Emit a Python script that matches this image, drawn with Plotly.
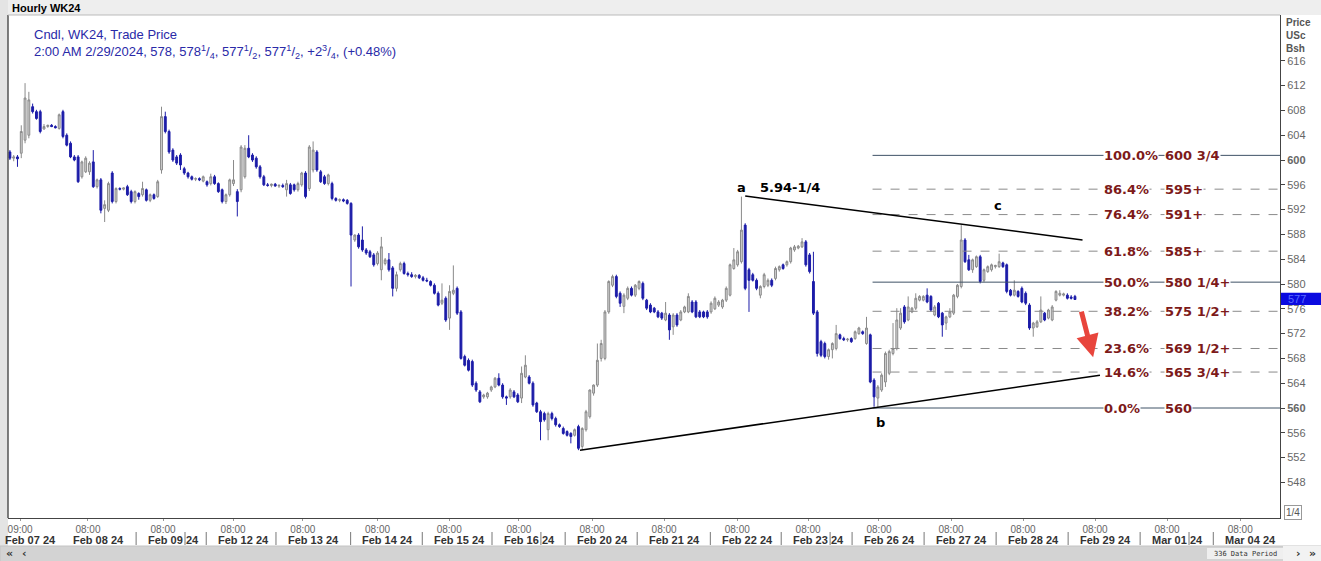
import plotly.graph_objects as go

# ---------------- data (hourly OHLC) ----------------
open_ = [601.3, 600.3, 600.5, 601.1, 603.2, 604.0, 608.6, 607.8, 607.8, 605.0,
         605.4, 605.6, 605.4, 605.1, 607.8, 604.0, 602.7, 600.5, 600.5, 597.3,
         598.1, 598.1, 599.7, 595.7, 596.8, 592.2, 591.9, 597.9, 593.3, 595.4,
         595.3, 595.7, 594.9, 593.3, 594.6, 594.4, 595.2, 593.5, 594.4, 594.1,
         598.4, 607.0, 604.6, 601.6, 600.5, 600.8, 598.6, 597.9, 597.3, 596.9,
         597.0, 596.6, 596.5, 596.2, 597.3, 596.2, 595.2, 593.3, 594.4, 596.2,
         594.9, 595.2, 597.3, 601.9, 600.8, 600.3, 598.9, 597.3, 596.0, 595.9,
         596.1, 595.8, 595.9, 595.2, 596.0, 596.0, 595.2, 596.0, 597.9, 595.4,
         598.4, 601.3, 598.1, 597.3, 596.2, 596.2, 593.8, 593.5, 593.6, 593.5,
         593.0, 587.1, 587.9, 587.1, 585.5, 585.2, 584.7, 583.3, 582.3, 583.3,
         583.9, 582.6, 579.3, 582.3, 583.3, 581.7, 581.5, 581.2, 581.4, 581.0,
         580.6, 580.4, 579.8, 578.5, 576.9, 577.7, 574.5, 578.5, 579.3, 575.5,
         568.3, 567.7, 567.5, 564.0, 562.6, 561.8, 561.8, 562.9, 563.4, 564.8,
         563.7, 561.8, 561.8, 562.6, 562.1, 561.6, 565.0, 565.0, 564.0, 560.8,
         559.4, 559.1, 556.5, 559.1, 558.3, 557.3, 556.7, 556.2, 555.9, 555.6,
         557.0, 553.8, 556.5, 558.6, 562.4, 563.7, 568.0, 568.0, 575.5, 579.8,
         581.2, 578.5, 576.4, 577.7, 579.3, 578.2, 579.3, 580.1, 577.4, 576.6,
         576.1, 575.5, 575.3, 574.2, 575.0, 573.1, 575.0, 574.2, 575.5, 575.5,
         577.1, 577.1, 575.5, 575.5, 575.5, 575.5, 576.0, 576.6, 576.3, 577.4,
         578.2, 582.5, 583.1, 583.6, 589.5, 582.3, 581.5, 580.6, 578.2, 579.6,
         579.8, 580.6, 580.9, 582.3, 583.1, 583.1, 583.6, 585.5, 585.8, 586.0,
         586.8, 584.7, 580.4, 575.5, 570.7, 570.4, 568.3, 569.4, 569.6, 571.8,
         571.2, 571.0, 571.2, 571.2, 572.0, 572.3, 570.4, 571.8, 564.5, 561.6,
         562.9, 564.2, 565.6, 568.8, 569.6, 572.9, 576.3, 574.2, 575.5, 576.1,
         577.4, 577.4, 578.2, 578.0, 575.0, 576.9, 575.3, 573.7, 574.7, 575.3,
         578.0, 579.6, 587.1, 583.9, 582.3, 582.8, 584.4, 580.6, 582.0, 582.3,
         582.8, 582.8, 583.4, 583.1, 579.0, 578.2, 578.8, 579.3, 578.5, 576.6,
         572.9, 573.1, 573.9, 575.3, 574.5, 574.2, 577.4, 578.2, 578.2, 578.2,
         577.9, 578.0]
high_ = [601.6, 600.8, 600.8, 605.6, 612.4, 611.0, 609.1, 608.1, 608.1, 605.8,
         605.7, 605.8, 605.6, 607.5, 608.1, 604.3, 603.0, 600.8, 600.8, 599.9,
         600.6, 599.8, 601.6, 597.0, 597.1, 593.5, 596.5, 598.2, 595.6, 595.6,
         595.6, 596.0, 595.2, 595.1, 594.8, 596.5, 595.4, 594.6, 594.6, 596.8,
         608.6, 607.8, 604.9, 601.9, 600.8, 601.1, 598.9, 598.1, 597.5, 597.2,
         597.2, 597.5, 596.7, 597.8, 597.6, 596.4, 595.4, 594.6, 597.0, 600.0,
         595.3, 602.4, 602.4, 604.0, 601.1, 600.6, 599.2, 597.6, 596.3, 596.2,
         596.3, 596.1, 596.2, 596.8, 596.3, 596.2, 596.5, 598.1, 598.2, 602.4,
         603.0, 601.6, 598.4, 597.6, 597.8, 596.5, 594.0, 593.8, 593.8, 593.7,
         593.2, 588.0, 588.2, 589.3, 585.8, 585.5, 585.0, 585.3, 587.6, 584.2,
         585.0, 582.9, 582.0, 583.6, 583.6, 582.0, 581.9, 581.6, 581.6, 581.3,
         581.0, 580.6, 580.1, 578.8, 580.1, 578.0, 579.8, 583.0, 579.6, 575.8,
         568.6, 568.0, 567.8, 564.3, 562.9, 562.3, 562.6, 563.6, 565.0, 565.6,
         564.0, 562.0, 563.2, 562.9, 562.4, 566.7, 568.5, 565.3, 564.3, 561.0,
         559.7, 559.4, 559.4, 559.4, 558.6, 557.5, 557.0, 556.4, 556.1, 556.7,
         557.3, 556.9, 559.7, 563.0, 563.8, 570.4, 571.0, 575.8, 580.6, 581.5,
         581.5, 578.8, 578.5, 579.6, 579.6, 580.0, 580.6, 580.4, 577.6, 576.9,
         576.3, 575.8, 575.5, 577.1, 575.3, 575.3, 575.3, 575.8, 576.5, 578.5,
         577.4, 577.4, 575.8, 575.7, 575.8, 577.2, 578.0, 577.4, 577.6, 579.6,
         583.3, 585.8, 585.5, 594.1, 589.8, 582.6, 581.8, 580.9, 579.8, 581.8,
         580.9, 580.9, 582.8, 583.0, 583.3, 583.8, 586.0, 586.3, 586.3, 587.4,
         587.1, 585.0, 585.2, 575.8, 571.0, 570.7, 569.6, 570.6, 573.4, 572.0,
         571.5, 571.3, 571.4, 572.5, 573.1, 572.5, 574.7, 572.0, 564.8, 563.7,
         565.6, 569.1, 569.4, 573.7, 576.1, 576.1, 576.6, 578.0, 576.3, 578.5,
         578.2, 578.2, 579.3, 578.2, 576.6, 577.1, 575.5, 574.9, 576.1, 578.4,
         580.0, 589.5, 587.4, 584.7, 584.1, 584.6, 584.7, 582.5, 583.0, 583.3,
         583.1, 584.9, 583.6, 583.3, 579.2, 580.6, 579.0, 579.6, 578.8, 576.9,
         573.9, 574.2, 578.0, 575.5, 576.0, 576.6, 579.0, 579.0, 578.6, 578.5,
         578.2, 578.25]
low_ = [600.0, 599.8, 598.9, 600.3, 602.7, 603.5, 607.5, 606.5, 604.3, 604.9,
        605.2, 605.3, 605.1, 604.9, 603.5, 602.2, 600.3, 599.8, 596.3, 597.0,
        597.9, 597.6, 595.5, 595.4, 591.4, 590.0, 591.6, 593.0, 593.0, 595.1,
        595.1, 594.2, 593.0, 593.0, 593.6, 594.1, 593.3, 593.2, 593.6, 593.9,
        597.8, 604.3, 601.0, 599.7, 599.2, 598.4, 597.6, 597.0, 596.7, 596.6,
        596.6, 596.4, 595.7, 595.9, 596.0, 594.7, 593.0, 592.9, 594.1, 595.8,
        590.9, 594.8, 597.0, 600.3, 599.7, 598.6, 597.0, 595.8, 595.7, 595.6,
        595.7, 595.5, 595.5, 594.1, 594.4, 594.9, 594.9, 595.7, 593.8, 595.0,
        598.0, 598.1, 596.3, 596.0, 595.9, 593.5, 593.3, 593.2, 593.2, 592.8,
        579.6, 586.8, 585.7, 585.2, 584.7, 584.2, 582.8, 583.0, 580.6, 583.0,
        582.0, 578.0, 578.8, 582.0, 581.5, 581.2, 581.0, 580.9, 580.8, 580.4,
        580.3, 579.6, 578.3, 576.4, 576.6, 573.9, 572.6, 578.2, 575.0, 567.8,
        566.7, 565.9, 563.4, 562.6, 560.8, 561.5, 561.5, 562.6, 563.2, 563.5,
        561.5, 560.5, 561.5, 561.6, 560.8, 560.8, 564.8, 563.8, 560.2, 559.2,
        554.8, 557.8, 554.8, 558.0, 557.0, 556.8, 555.7, 555.4, 554.3, 555.4,
        553.2, 553.2, 556.2, 558.3, 562.0, 563.4, 567.5, 567.7, 575.2, 579.5,
        577.7, 576.3, 575.3, 577.4, 578.0, 577.9, 579.0, 577.4, 575.8, 575.3,
        575.3, 574.5, 574.2, 574.0, 571.0, 571.8, 573.1, 574.0, 575.3, 575.3,
        575.3, 574.5, 574.5, 574.5, 574.4, 575.2, 575.8, 576.3, 576.0, 577.1,
        578.0, 582.3, 582.8, 583.3, 579.0, 575.5, 580.4, 579.0, 577.7, 579.3,
        579.5, 579.5, 580.6, 582.0, 582.3, 582.8, 583.3, 585.2, 585.6, 585.8,
        582.8, 581.7, 575.0, 568.3, 568.2, 568.0, 567.8, 568.0, 569.3, 571.0,
        570.8, 570.7, 570.5, 571.0, 571.8, 571.8, 570.2, 564.0, 560.2, 560.0,
        562.6, 563.4, 565.3, 568.5, 569.3, 572.6, 573.6, 574.0, 575.3, 575.8,
        577.2, 577.2, 576.9, 575.5, 574.8, 574.5, 571.5, 572.6, 574.5, 575.0,
        577.7, 579.3, 583.4, 582.1, 581.8, 582.6, 580.1, 580.3, 581.8, 582.0,
        582.5, 582.6, 582.6, 578.5, 578.0, 578.0, 577.8, 576.9, 576.6, 572.6,
        571.5, 572.9, 573.7, 574.0, 574.3, 574.0, 577.2, 578.0, 578.0, 577.5,
        577.5, 577.5]
close_ = [600.3, 600.5, 600.2, 604.6, 610.0, 609.7, 607.8, 606.7, 604.6, 605.4,
          605.6, 605.4, 605.2, 607.3, 603.8, 602.4, 600.5, 600.0, 596.5, 599.7,
          600.3, 599.5, 595.7, 596.8, 591.9, 592.8, 596.2, 593.3, 595.4, 595.3,
          595.5, 594.4, 593.3, 594.9, 594.1, 595.4, 593.5, 594.4, 593.8, 596.5,
          607.0, 604.6, 601.3, 600.0, 599.5, 599.2, 597.9, 597.3, 596.9, 597.0,
          596.8, 597.3, 596.0, 597.3, 596.2, 594.9, 593.3, 594.4, 596.8, 596.8,
          593.3, 602.1, 601.9, 600.5, 600.0, 598.9, 597.3, 596.0, 595.9, 596.1,
          595.8, 595.9, 595.7, 596.2, 594.6, 595.2, 596.2, 597.9, 594.1, 602.1,
          601.6, 598.4, 596.5, 596.2, 597.6, 593.8, 593.5, 593.6, 593.4, 593.0,
          587.9, 587.9, 586.0, 585.5, 585.0, 584.4, 583.1, 585.0, 586.0, 583.9,
          582.3, 579.3, 581.5, 583.3, 581.7, 581.5, 581.2, 581.4, 581.0, 580.6,
          580.5, 579.8, 578.5, 576.6, 577.4, 574.2, 578.8, 579.0, 575.3, 568.0,
          566.9, 566.1, 563.7, 562.9, 561.0, 562.1, 562.4, 563.4, 564.8, 563.7,
          561.8, 561.6, 562.9, 561.8, 561.0, 565.6, 566.9, 564.0, 560.5, 559.4,
          557.8, 558.1, 559.1, 558.3, 557.3, 557.0, 555.9, 555.6, 555.4, 556.5,
          553.5, 556.7, 559.4, 562.9, 563.7, 567.7, 570.4, 575.5, 580.4, 581.2,
          578.0, 576.9, 578.2, 579.3, 578.2, 579.8, 580.4, 577.7, 576.1, 575.5,
          575.5, 574.7, 574.5, 575.3, 572.6, 575.0, 573.4, 575.5, 576.3, 578.0,
          575.5, 574.7, 574.7, 574.7, 574.7, 576.9, 577.7, 577.1, 577.4, 579.3,
          583.1, 583.9, 585.2, 588.7, 579.3, 580.6, 580.6, 579.3, 579.6, 581.5,
          580.6, 579.8, 582.5, 582.8, 582.5, 583.6, 585.8, 586.0, 586.1, 586.8,
          583.1, 582.0, 575.3, 568.8, 568.5, 568.3, 569.4, 570.4, 572.0, 571.2,
          571.0, 571.1, 570.7, 572.3, 572.9, 572.0, 572.9, 564.2, 561.8, 563.4,
          565.3, 568.8, 569.1, 569.6, 574.2, 575.3, 573.9, 576.3, 576.1, 577.7,
          578.0, 578.0, 577.1, 575.8, 576.3, 574.7, 573.4, 574.7, 575.5, 578.2,
          579.8, 587.1, 583.6, 582.3, 583.9, 584.4, 580.4, 582.3, 582.8, 583.1,
          583.0, 583.6, 582.8, 578.8, 578.2, 579.0, 578.0, 577.1, 576.9, 572.9,
          573.7, 573.9, 575.8, 574.2, 575.8, 576.3, 578.8, 578.5, 578.4, 577.7,
          577.7, 577.5]

# x-axis: bar index of each day's 08:00 tick, and labels
tick_bar = [2.7, 20.6, 40.4, 58.9, 77.3, 97.0, 115.9, 134.3, 153.6, 172.6,
            191.9, 210.6, 229.3, 248.3, 267.3, 286.3, 305.3, 324.6]
tick_time = ["09:00"] + ["08:00"] * 17
tick_date = ["Feb 07 24", "Feb 08 24", "Feb 09 24", "Feb 12 24", "Feb 13 24",
             "Feb 14 24", "Feb 15 24", "Feb 16 24", "Feb 20 24", "Feb 21 24",
             "Feb 22 24", "Feb 23 24", "Feb 26 24", "Feb 27 24", "Feb 28 24",
             "Feb 29 24", "Mar 01 24", "Mar 04 24"]
friday_dates = ["Feb 09 24", "Feb 16 24", "Feb 23 24", "Mar 01 24"]

# Fibonacci levels
fib_pct = ["100.0%", "86.4%", "76.4%", "61.8%", "50.0%", "38.2%", "23.6%", "14.6%", "0.0%"]
fib_price = [600.75, 595.3, 591.2, 585.3, 580.3, 575.6, 569.6, 565.8, 560.0]
fib_text = ["600 3/4", "595+", "591+", "585+", "580 1/4+", "575 1/2+", "569 1/2+", "565 3/4+", "560"]
fib_solid = [True, False, False, False, True, False, False, False, True]
fib_start_bar = 227.6

# hand-drawn trend lines (bar index, price)
upper_bar = [194.0, 283.0]
upper_price = [594.2, 587.1]
lower_bar = [150.4, 287.6]
lower_price = [553.2, 565.3]

# arrow (tail -> head)
arrow_bar = [282.6, 285.8]
arrow_price = [575.8, 568.2]

y_ticks = list(range(548, 617, 4))

# ---------------- layout helpers ----------------
W, H = 1321, 561
ML, MR, MT, MB = 8, 41, 15, 43
PW, PH = W - ML - MR, H - MT - MB
X_RANGE = [-0.5, 335.1]
Y_RANGE = [542.26, 623.39]


def px(x):
    return (x - ML) / PW


def py(y):
    return 1 - (y - MT) / PH


n = len(close_)
xs = list(range(n))

fig = go.Figure()
fig.add_trace(go.Candlestick(
    x=xs, open=open_, high=high_, low=low_, close=close_,
    increasing=dict(line=dict(color="#8a8a8a", width=1), fillcolor="#d4d4d4"),
    decreasing=dict(line=dict(color="#1c1ca8", width=1), fillcolor="#1c1ca8"),
    whiskerwidth=0, showlegend=False, hoverinfo="x+y",
))

shapes = []
annotations = []

# background strips
shapes.append(dict(type="rect", xref="paper", yref="paper", x0=px(0), x1=px(W), y0=1, y1=py(0),
                   fillcolor="#eeeeee", line=dict(width=0), layer="below"))
shapes.append(dict(type="rect", xref="paper", yref="paper", x0=px(0), x1=px(ML), y0=py(H), y1=py(0),
                   fillcolor="#e4e4e4", line=dict(width=0), layer="below"))
shapes.append(dict(type="rect", xref="paper", yref="paper", x0=px(0), x1=px(W), y0=py(H + 2), y1=py(546),
                   fillcolor="#d3d3d3", line=dict(color="#c4c4c4", width=1)))
shapes.append(dict(type="rect", xref="paper", yref="paper", x0=px(1207), x1=px(1283), y0=py(559),
                   y1=py(548), fillcolor="#efefef", line=dict(width=0)))
shapes.append(dict(type="rect", xref="paper", yref="paper", x0=px(1283), x1=px(W), y0=py(H + 2),
                   y1=py(546), fillcolor="#f2f2f2", line=dict(width=0)))

# Fib lines + labels
RED = "#7d1a1a"
for pct, val, txt, solid in zip(fib_pct, fib_price, fib_text, fib_solid):
    shapes.append(dict(type="line", xref="x", yref="y", x0=fib_start_bar, x1=X_RANGE[1],
                       y0=val, y1=val,
                       line=dict(color="#3f5266" if solid else "#8a8a8a", width=1,
                                 dash="solid" if solid else "dash")))
    annotations.append(dict(xref="paper", yref="y", x=px(1103), y=val, xanchor="left",
                            yanchor="middle", text=f"<b>{pct}</b>", showarrow=False,
                            bgcolor="white", borderpad=0,
                            font=dict(family="DejaVu Sans", size=13, color=RED)))
    annotations.append(dict(xref="paper", yref="y", x=px(1164), y=val, xanchor="left",
                            yanchor="middle", text=f"<b>{txt}</b>", showarrow=False,
                            bgcolor="white", borderpad=0,
                            font=dict(family="DejaVu Sans", size=13, color=RED)))

# trend lines
shapes.append(dict(type="line", xref="x", yref="y", x0=upper_bar[0], x1=upper_bar[1],
                   y0=upper_price[0], y1=upper_price[1], line=dict(color="black", width=1.5)))
shapes.append(dict(type="line", xref="x", yref="y", x0=lower_bar[0], x1=lower_bar[1],
                   y0=lower_price[0], y1=lower_price[1], line=dict(color="black", width=1.5)))

# wave labels
lab_font = dict(family="DejaVu Sans", size=13, color="black")
for t, xb, yv in [("a", 192.9, 595.6), ("5.94-1/4", 205.8, 595.6), ("c", 260.7, 592.7), ("b", 229.8, 557.6)]:
    annotations.append(dict(xref="x", yref="y", x=xb, y=yv, text=f"<b>{t}</b>",
                            xanchor="center", yanchor="middle",
                            showarrow=False, font=lab_font))

# red arrow
annotations.append(dict(xref="x", yref="y", axref="x", ayref="y",
                        x=arrow_bar[1], y=arrow_price[1], ax=arrow_bar[0], ay=arrow_price[0],
                        text="", showarrow=True, arrowhead=2, arrowsize=0.9, arrowwidth=5,
                        arrowcolor="#e8453c"))

# frame lines
shapes.append(dict(type="line", xref="paper", yref="paper", x0=0, x1=0, y0=0, y1=1,
                   line=dict(color="#555555", width=1.5)))
shapes.append(dict(type="line", xref="paper", yref="paper", x0=0, x1=px(1280), y0=1, y1=1,
                   line=dict(color="#bbbbbb", width=1)))
annotations.append(dict(xref="paper", yref="paper", x=px(10), y=py(8), xanchor="left",
                        yanchor="middle", text="<b>Hourly WK24</b>", showarrow=False,
                        font=dict(family="Liberation Sans", size=11, color="black")))

# legend text in blue
BLUE = "#2a2aa8"
annotations.append(dict(xref="paper", yref="paper", x=px(32), y=py(35), xanchor="left",
                        yanchor="middle", text="Cndl, WK24, Trade Price", showarrow=False,
                        font=dict(family="Liberation Sans", size=13, color=BLUE)))
annotations.append(dict(xref="paper", yref="paper", x=px(32), y=py(52), xanchor="left",
                        yanchor="middle",
                        text="2:00 AM 2/29/2024, 578, 578<sup>1</sup>/<sub>4</sub>, 577<sup>1</sup>/<sub>2</sub>, "
                             "577<sup>1</sup>/<sub>2</sub>, +2<sup>3</sup>/<sub>4</sub>, (+0.48%)",
                        showarrow=False, font=dict(family="Liberation Sans", size=13, color=BLUE)))

# right axis heading
annotations.append(dict(xref="paper", yref="paper", x=px(1284), y=py(36), xanchor="left",
                        yanchor="middle", text="<b>Price<br>USc<br>Bsh</b>", showarrow=False,
                        align="left",
                        font=dict(family="Liberation Sans", size=10, color="#555555")))

# current price tag
shapes.append(dict(type="rect", xref="paper", yref="y", x0=px(1281), x1=px(1321),
                   y0=576.6, y1=578.6, fillcolor="#0a0ae0", line=dict(width=0)))
annotations.append(dict(xref="paper", yref="y", x=px(1286), y=577.6, xanchor="left",
                        yanchor="middle", text="577", showarrow=False,
                        font=dict(family="Liberation Sans", size=11, color="#5a6cff")))

# 1/4 box
annotations.append(dict(xref="paper", yref="paper", x=px(1293), y=py(512), text="1/4",
                        xanchor="center", yanchor="middle",
                        showarrow=False, bordercolor="#999999", borderwidth=1, borderpad=1,
                        font=dict(family="Liberation Sans", size=10, color="#555555")))

# date row labels + separators
for tb, d in zip(tick_bar, tick_date):
    annotations.append(dict(xref="x", yref="paper", x=tb + 2.7, y=py(540), text=f"<b>{d}</b>",
                            showarrow=False, xanchor="center", yanchor="middle", borderpad=0,
                            font=dict(family="Liberation Sans", size=11, color="#333333")))
for k, (tb, d) in enumerate(zip(tick_bar, tick_date)):
    if k >= 2:
        shapes.append(dict(type="line", xref="x", yref="paper", x0=tb - 7.1, x1=tb - 7.1,
                           y0=py(545), y1=py(532), line=dict(color="#777777", width=1)))
    if d in friday_dates:
        shapes.append(dict(type="line", xref="x", yref="paper", x0=tb + 5.8, x1=tb + 5.8,
                           y0=py(545), y1=py(532), line=dict(color="#777777", width=1)))

# scroll bar texts
annotations.append(dict(xref="paper", yref="paper", x=px(1245), y=py(554), text="336 Data Period",
                        showarrow=False, xanchor="center", yanchor="middle", borderpad=0,
                        font=dict(family="DejaVu Sans Mono", size=7, color="#333333")))
for t, xx in [("«", 9), ("‹", 24), ("›", 1298), ("»", 1312)]:
    annotations.append(dict(xref="paper", yref="paper", x=px(xx), y=py(553), text=f"<b>{t}</b>",
                            showarrow=False, xanchor="center", yanchor="middle", borderpad=0,
                            font=dict(family="DejaVu Sans", size=11, color="#333333")))

fig.update_layout(
    width=W, height=H,
    margin=dict(l=ML, r=MR, t=MT, b=MB, pad=0),
    paper_bgcolor="white", plot_bgcolor="white",
    showlegend=False,
    shapes=shapes, annotations=annotations,
    xaxis=dict(range=X_RANGE, rangeslider=dict(visible=False), showgrid=False, zeroline=False,
               tickmode="array", tickvals=tick_bar, ticktext=tick_time,
               ticks="outside", ticklen=2, tickcolor="#999999",
               tickfont=dict(family="Liberation Sans", size=10, color="#666666"),
               showline=True, linecolor="#444444", linewidth=1),
    yaxis=dict(range=Y_RANGE, side="right", showgrid=False, zeroline=False,
               tickmode="array", tickvals=y_ticks,
               ticktext=[f"<b>{v}</b>" if v in (560, 600) else str(v) for v in y_ticks],
               ticks="outside", ticklen=4, tickcolor="#444444",
               tickfont=dict(family="Liberation Sans", size=11, color="#666666"),
               showline=True, linecolor="#444444", linewidth=1),
)

fig.write_html("out.html", config={"displayModeBar": False},
               post_script="document.body.style.margin='0';document.body.style.overflow='hidden';")
